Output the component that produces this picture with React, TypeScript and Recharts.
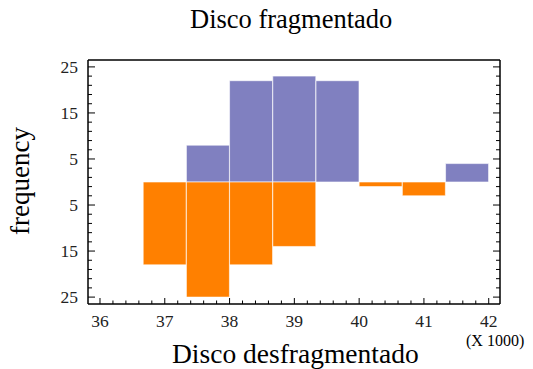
import React from "react"
import { BarChart, Bar, XAxis, YAxis } from "recharts"

// bin centres (x 1000), bins are 2/3 wide
const binCenters = [37.0, 37.667, 38.333, 39.0, 39.667, 40.333, 41.0, 41.667]
const fragmentado = [0, 8, 22, 23, 22, 0, 0, 4]
const desfragmentado = [18, 25, 18, 14, 0, 1, 3, 0]
const xMajorTicks = [36, 37, 38, 39, 40, 41, 42]
const yMajorLabels = [25, 15, 5]

const data = binCenters.map((x, i) => ({
  x,
  top: fragmentado[i],
  bottom: -desfragmentado[i],
}))

const xTicks = Array.from({ length: 31 }, (_, i) => Math.round((36 + i * 0.2) * 10) / 10)
const yTicks = Array.from({ length: 26 }, (_, i) => -25 + i * 2)

const serif = "'Liberation Serif', 'Times New Roman', serif"
const frame = { stroke: "#000", strokeWidth: 1.5 }

const isMajorX = (v: number) => xMajorTicks.includes(v)
const isMajorY = (v: number) => yMajorLabels.includes(Math.abs(v))

const BottomTick = ({ x, y, payload }: any) => {
  const major = isMajorX(payload.value)
  return (
    <g>
      <line x1={x} x2={x} y1={y} y2={y - (major ? 6 : 3.5)} stroke="#000" />
      {major && (
        <text x={x} y={y + 23} textAnchor="middle" fontSize={17.5} fontFamily={serif} fill="#222">
          {payload.value}
        </text>
      )}
    </g>
  )
}

const TopTick = ({ x, y, payload }: any) => {
  const major = isMajorX(payload.value)
  return <line x1={x} x2={x} y1={y} y2={y + (major ? 6 : 3.5)} stroke="#000" />
}

const LeftTick = ({ x, y, payload }: any) => {
  const major = isMajorY(payload.value)
  return (
    <g>
      <line x1={x} x2={x + (major ? 7 : 4)} y1={y} y2={y} stroke="#000" />
      {major && (
        <text x={x - 10} y={y + 6} textAnchor="end" fontSize={17.5} fontFamily={serif} fill="#222">
          {Math.abs(payload.value)}
        </text>
      )}
    </g>
  )
}

const RightTick = ({ x, y, payload }: any) => {
  const major = isMajorY(payload.value)
  return <line x1={x} x2={x - (major ? 7 : 4)} y1={y} y2={y} stroke="#000" />
}

export default function App() {
  return (
    <div style={{ position: "relative", width: 525, height: 361 }}>
      <BarChart
        width={525}
        height={361}
        data={data}
        margin={{ top: 51, right: 32, bottom: 64, left: 79 }}
        stackOffset="sign"
        barCategoryGap={0}
        barGap={0}
      >
        <XAxis
          xAxisId="b"
          dataKey="x"
          type="number"
          domain={[35.815, 42.174]}
          ticks={xTicks}
          interval={0}
          height={1}
          tickSize={0}
          tickMargin={0}
          tickLine={false}
          tick={BottomTick}
          axisLine={frame}
          allowDataOverflow
        />
        <XAxis
          xAxisId="t"
          orientation="top"
          type="number"
          domain={[35.815, 42.174]}
          ticks={xTicks}
          interval={0}
          height={1}
          tickSize={0}
          tickMargin={0}
          tickLine={false}
          tick={TopTick}
          axisLine={frame}
          allowDataOverflow
        />
        <YAxis
          yAxisId="l"
          type="number"
          domain={[-26.5, 26.5]}
          ticks={yTicks}
          interval={0}
          width={1}
          tickSize={0}
          tickMargin={0}
          tickLine={false}
          tick={LeftTick}
          axisLine={frame}
          allowDataOverflow
        />
        <YAxis
          yAxisId="r"
          orientation="right"
          type="number"
          domain={[-26.5, 26.5]}
          ticks={yTicks}
          interval={0}
          width={1}
          tickSize={0}
          tickMargin={0}
          tickLine={false}
          tick={RightTick}
          axisLine={frame}
          allowDataOverflow
        />
        <Bar
          xAxisId="b"
          yAxisId="l"
          dataKey="top"
          stackId="s"
          fill="#8080C0"
          stroke="#fff"
          strokeOpacity={0.6}
          isAnimationActive={false}
        />
        <Bar
          xAxisId="b"
          yAxisId="l"
          dataKey="bottom"
          stackId="s"
          fill="#FF8000"
          stroke="#fff"
          strokeOpacity={0.6}
          isAnimationActive={false}
        />
      </BarChart>
      <svg
        width={533}
        height={369}
        style={{ position: "absolute", left: -8, top: -8, pointerEvents: "none" }}
      >
        <text x={190} y={28} fontSize={26.5} fontFamily={serif} fill="#000">
          Disco fragmentado
        </text>
        <text x={172} y={363} fontSize={27.5} fontFamily={serif} fill="#000">
          Disco desfragmentado
        </text>
        <text x={466} y={346} fontSize={16} fontFamily={serif} fill="#000">
          (X 1000)
        </text>
        <g transform="translate(29, 181) rotate(-90)">
          <text x={0} y={0} fontSize={27} fontFamily={serif} fill="#000" textAnchor="middle">
            frequency
          </text>
        </g>
      </svg>
    </div>
  )
}
